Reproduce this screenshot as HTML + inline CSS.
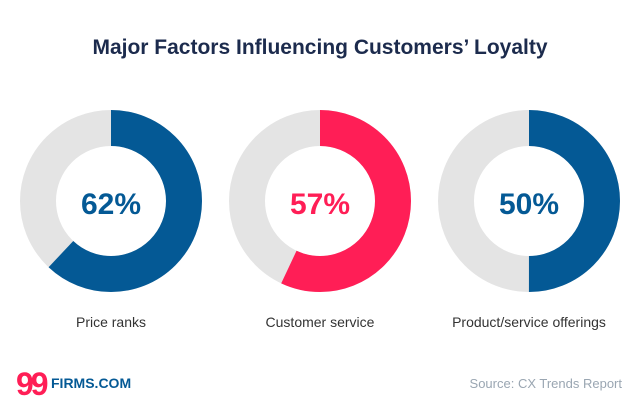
<!DOCTYPE html>
<html><head><meta charset="utf-8"><style>
body{margin:0;width:640px;height:418px;background:#fff;font-family:"Liberation Sans",sans-serif;overflow:hidden;position:relative}
.t{position:absolute;left:0;width:640px;text-align:center;top:36px;font-size:21px;font-weight:bold;color:#1c2b4d}
.l{position:absolute;top:314px;width:220px;text-align:center;font-size:14px;color:#333}
.s{position:absolute;right:18px;top:376px;font-size:13px;color:#9aa6b2}
</style></head><body>
<div class="t">Major Factors Influencing Customers’ Loyalty</div>
<svg width="640" height="418" style="position:absolute;left:0;top:0">
<g fill="none" stroke-width="36">
<circle cx="111" cy="201" r="73" stroke="#e4e4e4"/>
<circle cx="111" cy="201" r="73" stroke="#045995" stroke-dasharray="284.4 1000" transform="rotate(-90 111 201)"/>
<circle cx="320" cy="201" r="73" stroke="#e4e4e4"/>
<circle cx="320" cy="201" r="73" stroke="#ff1e56" stroke-dasharray="261.4 1000" transform="rotate(-90 320 201)"/>
<circle cx="529" cy="201" r="73" stroke="#e4e4e4"/>
<circle cx="529" cy="201" r="73" stroke="#045995" stroke-dasharray="229.3 1000" transform="rotate(-90 529 201)"/>
</g>
<g font-family="Liberation Sans,sans-serif" font-weight="bold" font-size="30" text-anchor="middle">
<text x="111" y="214" fill="#045995">62%</text>
<text x="320" y="214" fill="#ff1e56">57%</text>
<text x="529" y="214" fill="#045995">50%</text>
</g>
<text x="16" y="395" font-family="Liberation Sans,sans-serif" font-weight="bold" font-size="32" fill="#ff1e56" letter-spacing="-3">99</text>
<text x="51" y="388" font-family="Liberation Sans,sans-serif" font-weight="bold" font-size="14" fill="#045995">FIRMS.COM</text>
</svg>
<div class="l" style="left:1px">Price ranks</div>
<div class="l" style="left:210px">Customer service</div>
<div class="l" style="left:419px">Product/service offerings</div>
<div class="s">Source: CX Trends Report</div>
</body></html>
